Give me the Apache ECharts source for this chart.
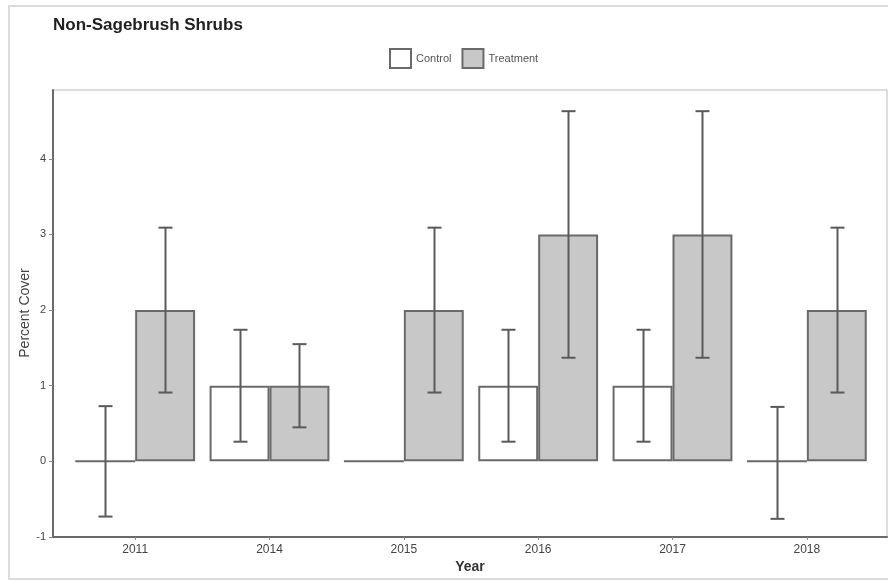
<!DOCTYPE html>
<html>
<head>
<meta charset="utf-8">
<script src="https://cdn.jsdelivr.net/npm/echarts@6/dist/echarts.min.js"></script>
<style>html,body{margin:0;padding:0;background:#fff}#c{width:888px;height:582px}</style>
</head>
<body>
<div id="c"></div>
<script>
var years = ['2011', '2014', '2015', '2016', '2017', '2018'];
var controlMean = [0, 1, 0, 1, 1, 0];
var treatmentMean = [2, 1, 2, 3, 3, 2];
var controlLow = [-0.73, 0.26, null, 0.26, 0.26, -0.76];
var controlHigh = [0.73, 1.74, null, 1.74, 1.74, 0.72];
var treatmentLow = [0.91, 0.45, 0.91, 1.37, 1.37, 0.91];
var treatmentHigh = [3.09, 1.55, 3.09, 4.63, 4.63, 3.09];
var yTicks = [-1, 0, 1, 2, 3, 4];

var FONT = 'Liberation Sans, Arial, sans-serif';
var BAR_FRAC = 0.446;

function errData(lo, hi) {
  var out = [];
  for (var i = 0; i < lo.length; i++) {
    if (lo[i] != null) out.push([i, lo[i], hi[i]]);
  }
  return out;
}
function errRender(sign) {
  return function (params, api) {
    var band = api.size([1, 0])[0];
    var off = sign * band * BAR_FRAC / 2;
    var lo = api.coord([api.value(0), api.value(1)]);
    var hi = api.coord([api.value(0), api.value(2)]);
    var x = Math.round(lo[0] + off) + 0.5;
    var cap = 7;
    var st = { stroke: '#5a5a5a', lineWidth: 2 };
    return {
      type: 'group',
      children: [
        { type: 'line', shape: { x1: x, y1: hi[1], x2: x, y2: lo[1] }, style: st },
        { type: 'line', shape: { x1: x - cap, y1: hi[1], x2: x + cap, y2: hi[1] }, style: st },
        { type: 'line', shape: { x1: x - cap, y1: lo[1], x2: x + cap, y2: lo[1] }, style: st }
      ]
    };
  };
}

var chart = echarts.init(document.getElementById('c'), null, { renderer: 'canvas' });
chart.setOption({
  animation: false,
  backgroundColor: '#fff',
  textStyle: { fontFamily: FONT },
  title: {
    text: 'Non-Sagebrush Shrubs',
    left: 48, top: 12,
    textStyle: { fontFamily: FONT, fontSize: 17, fontWeight: 'bold', color: '#222' }
  },
  legend: {
    top: 43, left: 384,
    itemWidth: 21, itemHeight: 19, itemGap: 10,
    icon: 'rect',
    textStyle: { fontFamily: FONT, fontSize: 11, color: '#555' },
    data: ['Control', 'Treatment']
  },
  graphic: [{
    type: 'rect', silent: true, z: -10,
    shape: { x: 9, y: 6, width: 890, height: 573 },
    style: { fill: 'none', stroke: '#dcdcdc', lineWidth: 2 }
  }, {
    type: 'text', silent: true,
    x: 25, y: 313, rotation: Math.PI / 2,
    style: {
      text: 'Percent Cover', fill: '#444', font: '14px ' + FONT,
      align: 'center', verticalAlign: 'middle'
    }
  }],
  grid: [
    { left: 53, right: 1, top: 90, bottom: 45, show: true, borderColor: '#bbb', borderWidth: 1, backgroundColor: 'transparent' },
    { left: 68, right: 14, top: 90, bottom: 45 }
  ],
  xAxis: [
    {
      gridIndex: 0, type: 'value', min: 0, max: 1,
      axisLine: { show: true, onZero: false, lineStyle: { color: '#6a6a6a', width: 2 } },
      axisTick: { show: false }, axisLabel: { show: false }, splitLine: { show: false },
      name: 'Year', nameLocation: 'middle', nameGap: 23,
      nameTextStyle: { fontFamily: FONT, fontSize: 14, fontWeight: 'bold', color: '#333' }
    },
    {
      gridIndex: 1, type: 'category', data: years,
      axisLine: { show: false, onZero: false },
      axisTick: { show: true, alignWithLabel: true, length: 3, lineStyle: { color: '#888' } },
      axisLabel: { fontFamily: FONT, fontSize: 12, color: '#444', margin: 7 }
    }
  ],
  yAxis: [
    {
      gridIndex: 0, type: 'value', min: -1, max: 4.91, interval: 1,
      axisLine: { show: true, onZero: false, lineStyle: { color: '#6a6a6a', width: 2 } },
      axisTick: { show: true, length: 4, lineStyle: { color: '#888' } },
      axisLabel: {
        fontFamily: FONT, fontSize: 11, color: '#444', margin: 7, showMaxLabel: false,
        formatter: function (v) { return yTicks.indexOf(v) >= 0 ? String(v) : ''; }
      },
      splitLine: { show: false }
    },
    {
      gridIndex: 1, type: 'value', min: -1, max: 4.91, interval: 1,
      show: false, splitLine: { show: false }
    }
  ],
  series: [
    {
      name: 'Control', type: 'bar', xAxisIndex: 1, yAxisIndex: 1,
      data: controlMean, barWidth: (BAR_FRAC * 100) + '%', barGap: '0%',
      itemStyle: { color: '#ffffff', borderColor: '#6a6a6a', borderWidth: 2 }
    },
    {
      name: 'Treatment', type: 'bar', xAxisIndex: 1, yAxisIndex: 1,
      data: treatmentMean, barWidth: (BAR_FRAC * 100) + '%', barGap: '0%',
      itemStyle: { color: '#c8c8c8', borderColor: '#6a6a6a', borderWidth: 2 }
    },
    {
      type: 'custom', xAxisIndex: 1, yAxisIndex: 1, z: 5,
      renderItem: errRender(-1), data: errData(controlLow, controlHigh)
    },
    {
      type: 'custom', xAxisIndex: 1, yAxisIndex: 1, z: 5,
      renderItem: errRender(1), data: errData(treatmentLow, treatmentHigh)
    }
  ]
});
</script>
</body>
</html>
